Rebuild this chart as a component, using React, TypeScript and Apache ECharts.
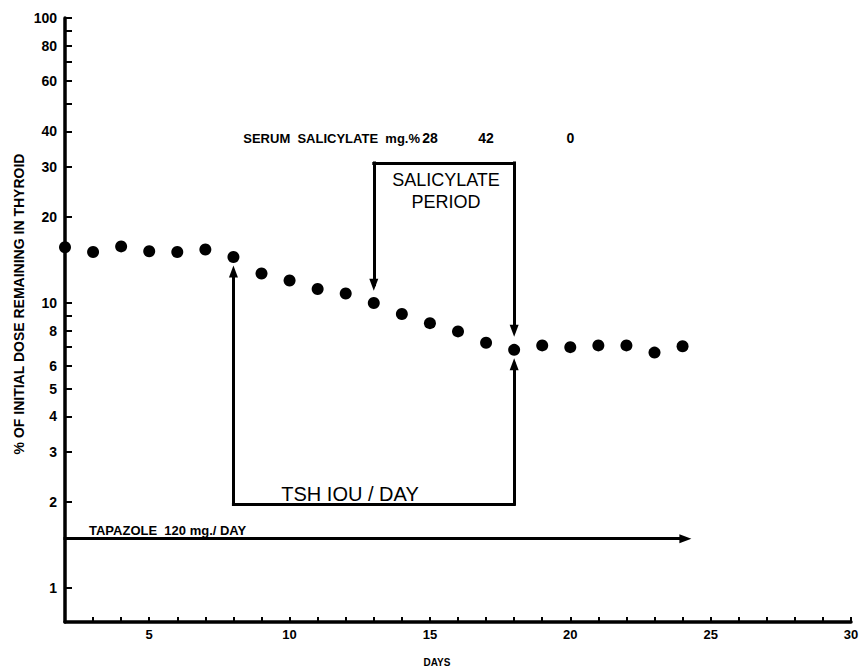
import React, { useEffect, useRef } from "react";
import * as echarts from "echarts";

// ---- Data ----
const days = [2, 3, 4, 5, 6, 7, 8, 9, 10, 11, 12, 13, 14, 15, 16, 17, 18, 19, 20, 21, 22, 23, 24];
const dosePct = [15.7, 15.1, 15.8, 15.2, 15.1, 15.4, 14.5, 12.7, 12.0, 11.2, 10.8, 10.0, 9.15, 8.5, 7.95, 7.25, 6.85, 7.1, 7.0, 7.1, 7.1, 6.7, 7.05];

const serumDays = [15, 17, 20];
const serumValues = [28, 42, 0];

const xLabelValues = [5, 10, 15, 20, 25, 30];
const yTickValues = [1, 2, 3, 4, 5, 6, 7, 8, 9, 10, 20, 30, 40, 50, 60, 70, 80, 90, 100];
const yLabelValues = [1, 2, 3, 4, 5, 6, 8, 10, 20, 30, 40, 60, 80, 100];

// annotation brackets (days, % levels)
const tshDays = [8, 18];
const tshLevel = 1.97;
const tshTips = [12.9, 6.1];
const salDays = [13, 18];
const salLevel = 31;
const salTips = [11.6, 8.0];
const tapazoleDays = [2, 24.1];
const tapazoleLevel = 1.49;

const SERUM_ROW = 38;
const Y_MIN = 0.76;
const Y_MAX = 100;

const L = (v: number) => Math.log10(v);
const FONT = "'Liberation Sans', Arial, Helvetica, sans-serif";

export default function App() {
  const ref = useRef<HTMLDivElement>(null);

  useEffect(() => {
    document.body.style.margin = "0";
    if (!ref.current) return;
    const chart = echarts.init(ref.current, undefined, { renderer: "svg" });

    const seg = (a: [number, number], b: [number, number], arrow: boolean) => [
      { coord: [a[0], L(a[1])], symbol: "none" },
      { coord: [b[0], L(b[1])], symbol: arrow ? "triangle" : "none" },
    ];

    const option: any = {
      animation: false,
      backgroundColor: "#fff",
      grid: { left: 65, right: 12, top: 18, bottom: 47, containLabel: false },
      xAxis: {
        type: "value",
        min: 2,
        max: 30,
        interval: 1,
        axisLine: { onZero: false, lineStyle: { color: "#000", width: 3.5 } },
        axisTick: { inside: true, length: 5, lineStyle: { color: "#000", width: 2 } },
        axisLabel: {
          customValues: xLabelValues,
          color: "#000",
          fontWeight: "bold",
          fontSize: 13,
          fontFamily: FONT,
          margin: 6,
        },
        splitLine: { show: false },
      },
      yAxis: {
        type: "value",
        min: L(Y_MIN),
        max: L(Y_MAX),
        axisLine: { show: true, onZero: false, lineStyle: { color: "#000", width: 3.5 } },
        axisTick: {
          show: true,
          inside: true,
          length: 7,
          customValues: yTickValues.map(L),
          lineStyle: { color: "#000", width: 2 },
        },
        axisLabel: {
          customValues: yLabelValues.map(L),
          formatter: (v: number) => String(Math.round(Math.pow(10, v))),
          color: "#000",
          fontWeight: "bold",
          fontSize: 14,
          fontFamily: FONT,
          margin: 8,
        },
        splitLine: { show: false },
      },
      series: [
        {
          name: "% of initial dose remaining",
          type: "scatter",
          symbol: "circle",
          symbolSize: 12,
          itemStyle: { color: "#000", opacity: 1 },
          data: days.map((d, i) => [d, L(dosePct[i])]),
          markLine: {
            silent: true,
            symbolSize: [9, 12],
            label: { show: false },
            lineStyle: { color: "#000", width: 3, type: "solid", cap: "square", opacity: 1 },
            itemStyle: { color: "#000" },
            emphasis: { disabled: true },
            data: [
              seg([tshDays[0], tshLevel], [tshDays[0], tshTips[0]], true),
              seg([tshDays[0], tshLevel], [tshDays[1], tshLevel], false),
              seg([tshDays[1], tshLevel], [tshDays[1], tshTips[1]], true),
              seg([salDays[0], salLevel], [salDays[0], salTips[0]], true),
              seg([salDays[0], salLevel], [salDays[1], salLevel], false),
              seg([salDays[1], salLevel], [salDays[1], salTips[1]], true),
              seg([tapazoleDays[0], tapazoleLevel], [tapazoleDays[1], tapazoleLevel], true),
            ],
          },
        },
        {
          name: "Serum salicylate mg.%",
          type: "scatter",
          symbol: "circle",
          symbolSize: 1,
          itemStyle: { color: "rgba(0,0,0,0)", opacity: 1 },
          silent: true,
          label: {
            show: true,
            position: "inside",
            color: "#000",
            opacity: 1,
            fontWeight: "bold",
            fontSize: 14,
            fontFamily: FONT,
            formatter: (p: any) => String(serumValues[p.dataIndex]),
          },
          data: serumDays.map((d) => [d, L(SERUM_ROW)]),
        },
      ],
      graphic: [
        {
          type: "text",
          x: 19,
          y: 304,
          rotation: Math.PI / 2,
          style: {
            text: "% OF INITIAL DOSE REMAINING IN THYROID",
            fill: "#000",
            font: `bold 14px ${FONT}`,
            textAlign: "center",
            textVerticalAlign: "middle",
          },
        },
        {
          type: "text",
          x: 437,
          y: 662,
          style: {
            text: "DAYS",
            fill: "#000",
            font: `bold 10px ${FONT}`,
            textAlign: "center",
            textVerticalAlign: "middle",
          },
        },
        {
          type: "text",
          x: 420,
          y: 138,
          style: {
            text: "SERUM  SALICYLATE  mg.%",
            fill: "#000",
            font: `bold 13px ${FONT}`,
            textAlign: "right",
            textVerticalAlign: "middle",
          },
        },
        {
          type: "text",
          x: 446,
          y: 169,
          style: {
            text: "SALICYLATE\nPERIOD",
            fill: "#000",
            font: `18px ${FONT}`,
            lineHeight: 22,
            textAlign: "center",
            textVerticalAlign: "top",
          },
        },
        {
          type: "text",
          x: 350,
          y: 494,
          style: {
            text: "TSH IOU / DAY",
            fill: "#000",
            font: `20px ${FONT}`,
            textAlign: "center",
            textVerticalAlign: "middle",
          },
        },
        {
          type: "text",
          x: 89,
          y: 530,
          style: {
            text: "TAPAZOLE  120 mg./ DAY",
            fill: "#000",
            font: `bold 13px ${FONT}`,
            textAlign: "left",
            textVerticalAlign: "middle",
          },
        },
      ],
    };

    chart.setOption(option);
    return () => chart.dispose();
  }, []);

  return <div ref={ref} style={{ width: 863, height: 669 }} />;
}
